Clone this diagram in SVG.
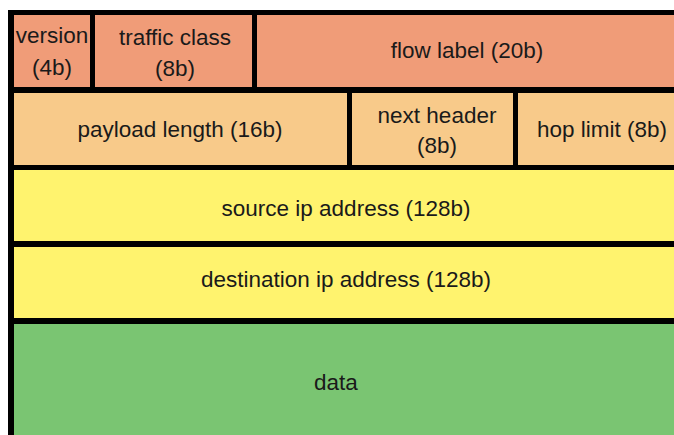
<svg xmlns="http://www.w3.org/2000/svg" width="674" height="435" viewBox="0 0 674 435">
<style>
.t{font-family:"Liberation Sans",Arial,sans-serif;font-size:22.5px;fill:#1a1a1a;text-anchor:middle}
.r1{fill:#F09C78}.r2{fill:#F8CA8A}.r3{fill:#FFF36E}.r5{fill:#7AC572}
</style>
<rect x="0" y="0" width="674" height="435" fill="#ffffff"/>
<rect x="8" y="10" width="666" height="425" fill="#000000"/>
<g id="version"><rect class="r1" x="14" y="15" width="76" height="72"/><text class="t" x="52" y="43">version</text><text class="t" x="52" y="75">(4b)</text></g>
<g id="traffic-class"><rect class="r1" x="95" y="15" width="157" height="72"/><text class="t" x="175" y="45">traffic class</text><text class="t" x="175" y="76">(8b)</text></g>
<g id="flow-label"><rect class="r1" x="257" y="15" width="417" height="72"/><text class="t" x="467" y="58">flow label (20b)</text></g>
<g id="payload-length"><rect class="r2" x="14" y="93" width="333" height="72"/><text class="t" x="180" y="137">payload length (16b)</text></g>
<g id="next-header"><rect class="r2" x="352" y="93" width="161" height="72"/><text class="t" x="437" y="123">next header</text><text class="t" x="437" y="153">(8b)</text></g>
<g id="hop-limit"><rect class="r2" x="518" y="93" width="156" height="72"/><text class="t" x="602" y="137">hop limit (8b)</text></g>
<g id="source"><rect class="r3" x="14" y="170" width="660" height="71"/><text class="t" x="346" y="216">source ip address (128b)</text></g>
<g id="destination"><rect class="r3" x="14" y="247" width="660" height="71"/><text class="t" x="346" y="287">destination ip address (128b)</text></g>
<g id="data"><rect class="r5" x="14" y="324" width="660" height="111"/><text class="t" x="336" y="390">data</text></g>
<g id="connectors"></g>
</svg>
